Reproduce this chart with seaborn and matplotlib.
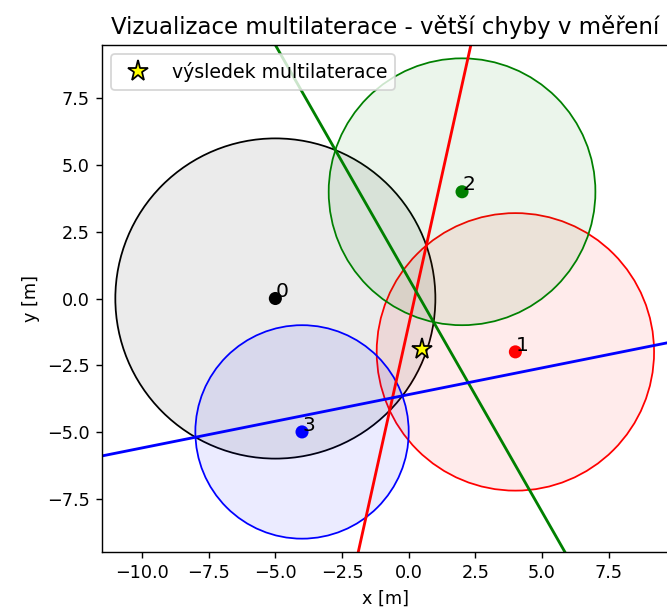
import matplotlib
matplotlib.use("Agg")
import matplotlib.pyplot as plt
import seaborn as sns
import numpy as np
from matplotlib.patches import Circle

# anchors (kotvy) and measured distances
anchor_x = [-5.0, 4.0, 2.0, -4.0]
anchor_y = [0.0, -2.0, 4.0, -5.0]
distances = [6.0, 5.2, 5.0, 4.0]
colors = ['black', 'red', 'green', 'blue']
anchor_ids = ['0', '1', '2', '3']

x_lim = (-11.5, 9.76)
y_lim = (-9.5, 9.5)

# linearizace vuci kotve 0 -> primky + reseni nejmensich ctvercu
x0, y0, r0 = anchor_x[0], anchor_y[0], distances[0]
A = []
b = []
for i in range(1, len(anchor_x)):
    xi, yi, ri = anchor_x[i], anchor_y[i], distances[i]
    A.append([2 * (xi - x0), 2 * (yi - y0)])
    b.append(r0**2 - ri**2 - x0**2 + xi**2 - y0**2 + yi**2)
A = np.array(A)
b = np.array(b)
est, *_ = np.linalg.lstsq(A, b, rcond=None)

fig = plt.figure(figsize=(667 / 127, 614 / 127), dpi=127)
# right spine sits just past the canvas edge, like in the cropped original
ax = fig.add_axes([102 / 667, 62 / 614, 567 / 667, 507 / 614])

for i in range(len(anchor_x)):
    ax.add_patch(Circle((anchor_x[i], anchor_y[i]), distances[i],
                        facecolor=colors[i], alpha=0.08, edgecolor='none'))
    ax.add_patch(Circle((anchor_x[i], anchor_y[i]), distances[i],
                        facecolor='none', edgecolor=colors[i], lw=1))

sns.scatterplot(x=anchor_x, y=anchor_y, hue=anchor_ids, palette=colors,
                s=55, edgecolor='none', legend=False, ax=ax, zorder=3)
for i in range(len(anchor_x)):
    ax.text(anchor_x[i] + 0.02, anchor_y[i] + 0.05, anchor_ids[i], fontsize=11.5, zorder=4)

xs = np.array(x_lim)
for k in range(len(b)):
    a1, a2 = A[k]
    if abs(a2) > abs(a1) * 0.2:
        ax.plot(xs, (b[k] - a1 * xs) / a2, color=colors[k + 1], lw=1.6)
    else:
        ys = np.array(y_lim)
        ax.plot((b[k] - a2 * ys) / a1, ys, color=colors[k + 1], lw=1.6)

ax.plot(est[0], est[1], marker='*', color='yellow', markeredgecolor='black',
        markersize=12, linestyle='none', label='výsledek multilaterace', zorder=5)

ax.set_xlim(*x_lim)
ax.set_ylim(*y_lim)
ax.set_xticks(np.arange(-10, 7.6, 2.5))
ax.set_yticks(np.arange(-7.5, 7.6, 2.5))
ax.set_xlabel('x [m]')
ax.set_ylabel('y [m]')
ax.set_title('Vizualizace multilaterace - větší chyby v měření', fontsize=13)
ax.legend(loc='upper left', fontsize=10.7)

fig.savefig('out.png', dpi=127)
